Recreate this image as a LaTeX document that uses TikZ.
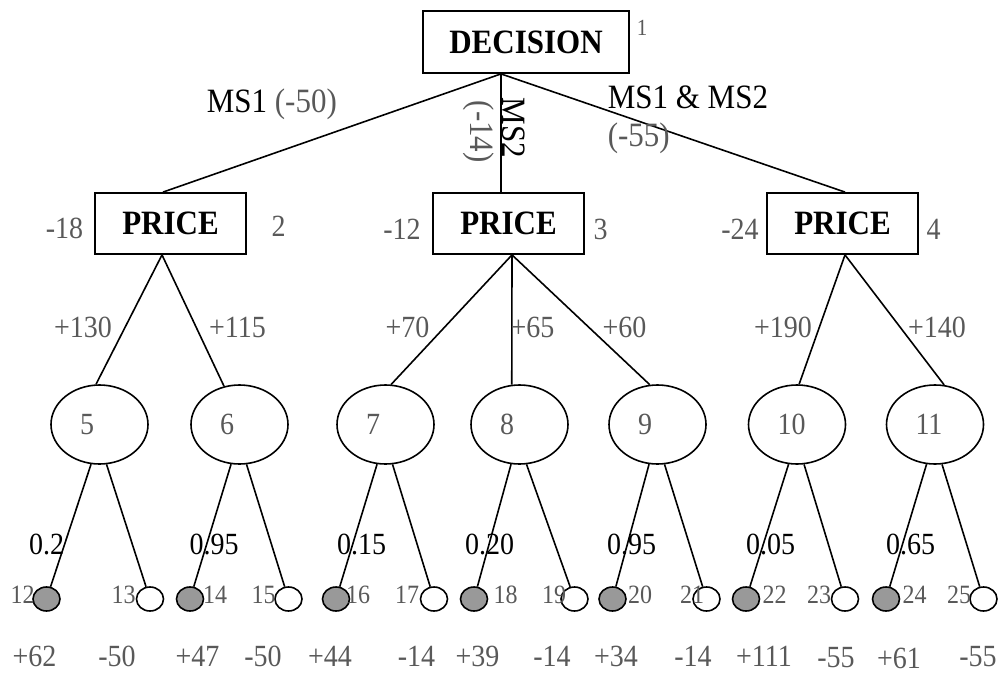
\documentclass[tikz,border=0pt]{standalone}
\usepackage{fontspec}
\setmainfont{Liberation Serif}
\usetikzlibrary{shapes.geometric}
\definecolor{numgray}{RGB}{89,89,89}
\definecolor{wingray}{RGB}{153,153,153}
\begin{document}
\begin{tikzpicture}[x=1pt,y=-1pt,line width=1.6pt,
  every node/.style={inner sep=0pt},
  tall/.style={yscale=1.1, transform shape},
  decbox/.style={draw, tall, minimum width=206pt, minimum height=56.4pt, font=\fontsize{31}{31}\selectfont\bfseries},
  pricebox/.style={draw, tall, minimum width=151pt, minimum height=55.5pt, font=\fontsize{31}{31}\selectfont\bfseries},
  chance/.style={draw, ellipse, minimum width=97pt, minimum height=79pt},
  outcome/.style={draw, ellipse, minimum width=27pt, minimum height=24pt},
  win/.style={outcome, fill=wingray},
  loss/.style={outcome, fill=white},
  val/.style={tall, text=numgray, font=\fontsize{28}{28}\selectfont},
  tag/.style={tall, text=numgray, font=\fontsize{24}{24}\selectfont},
  prob/.style={tall, font=\fontsize{28}{28}\selectfont},
  branch/.style={tall, font=\fontsize{31}{31}\selectfont},
]
\useasboundingbox (0,0) rectangle (1000,674);

% decision node
\node[decbox] (dec) at (526,42) {DECISION};
\node[tag, font=\fontsize{21}{21}\selectfont] (dec-n) at (642,28) {1};

% price nodes
\node[pricebox] (p2) at (170.5,223.5) {PRICE\hspace{12pt}};
\node[pricebox] (p3) at (508.5,223.5) {PRICE\hspace{12pt}};
\node[pricebox] (p4) at (842.5,223.5) {PRICE\hspace{12pt}};
\node[val] (p2-n) at (278.5,226) {2};
\node[val] (p3-n) at (600.5,229) {3};
\node[val] (p4-n) at (933.5,229) {4};
\node[val] (p2-c) at (64.5,228) {-18};
\node[val] (p3-c) at (402,229) {-12};
\node[val] (p4-c) at (740,229) {-24};

% connection points on the boxes
\coordinate (dec-o) at ([xshift=-25pt]dec.south);
\coordinate (p2-i) at ([xshift=-7.5pt]p2.north);
\coordinate (p3-i) at ([xshift=-7.5pt]p3.north);
\coordinate (p4-i) at ([xshift=2.5pt]p4.north);
\coordinate (p2-o) at ([xshift=-8.5pt]p2.south);
\coordinate (p3-o) at ([xshift=3.5pt]p3.south);
\coordinate (p4-o) at ([xshift=2.5pt]p4.south);

\draw (dec-o) -- (p2-i);
\draw (dec-o) -- (p3-i);
\draw (dec-o) -- (p4-i);

% decision branch labels
\node[branch, anchor=base west] (lab-ms1) at (206,113) {MS1 \textcolor{numgray}{(-50)}};
\node[branch, anchor=base west] (lab-ms12) at (607,109) {MS1 \& MS2};
\node[branch, anchor=base west, text=numgray] (lab-ms12c) at (607,146) {(-55)};
\node[rotate=-90, branch, anchor=base west] (lab-ms2) at (502,97) {MS2};
\node[rotate=-90, branch, anchor=base west, text=numgray] (lab-ms2c) at (470,100) {(-14)};

% chance nodes
\node[chance] (e5) at (99.5,424.5) {};
\node[chance] (e6) at (239.5,424.5) {};
\node[chance] (e7) at (385.5,424.5) {};
\node[chance] (e8) at (519.5,424.5) {};
\node[chance] (e9) at (657.5,424.5) {};
\node[chance] (e10) at (797,424.5) {};
\node[chance] (e11) at (935,424.5) {};
\foreach \n in {5,...,11}
  \node[val, anchor=west] (e\n-t) at ([xshift=29pt]e\n.west) {\n};

\draw (p2-o) -- (e5.95);
\draw (p2-o) -- (e6.112);
\draw (p3-o) -- (e7.82);
\draw (p3-o) -- (e8.101);
\draw (p3-o) -- (e9.101);
\draw (p4-o) -- (e10.87);
\draw (p4-o) -- (e11.77);

% price branch values
\node[val] (v5) at (83,327.5) {+130};
\node[val] (v6) at (237.5,327.5) {+115};
\node[val] (v7) at (407.5,327.5) {+70};
\node[val] (v8) at (532.5,327.5) {+65};
\node[val] (v9) at (624.5,327.5) {+60};
\node[val] (v10) at (783,327.5) {+190};
\node[val] (v11) at (937,327.5) {+140};

% outcome nodes
\node[win]  (l12) at (46.5,599) {};
\node[loss] (l13) at (150,599) {};
\node[win]  (l14) at (190,599) {};
\node[loss] (l15) at (288.5,599) {};
\node[win]  (l16) at (336,599) {};
\node[loss] (l17) at (434,599) {};
\node[win]  (l18) at (474,599) {};
\node[loss] (l19) at (574.5,599) {};
\node[win]  (l20) at (612.5,599) {};
\node[loss] (l21) at (706.5,599) {};
\node[win]  (l22) at (746,599) {};
\node[loss] (l23) at (845,599) {};
\node[win]  (l24) at (886,599) {};
\node[loss] (l25) at (983.5,599) {};

\draw (e5.258) -- (l12);  \draw (e5.280) -- (l13);
\draw (e6.258) -- (l14);  \draw (e6.280) -- (l15);
\draw (e7.258) -- (l16);  \draw (e7.280) -- (l17);
\draw (e8.258) -- (l18);  \draw (e8.280) -- (l19);
\draw (e9.258) -- (l20);  \draw (e9.280) -- (l21);
\draw (e10.258) -- (l22); \draw (e10.280) -- (l23);
\draw (e11.258) -- (l24); \draw (e11.280) -- (l25);

% probabilities
\node[prob] (pr5) at (46.5,544) {0.2};
\node[prob] (pr6) at (214,544) {0.95};
\node[prob] (pr7) at (361.5,544) {0.15};
\node[prob] (pr8) at (489.5,544) {0.20};
\node[prob] (pr9) at (631.5,544) {0.95};
\node[prob] (pr10) at (770.5,544) {0.05};
\node[prob] (pr11) at (910.5,544) {0.65};

% outcome numbers
\node[tag] (t12) at (22.5,595) {12};
\node[tag] (t13) at (123.5,595) {13};
\node[tag] (t14) at (215,595) {14};
\node[tag] (t15) at (263.5,595) {15};
\node[tag] (t16) at (358,595) {16};
\node[tag] (t17) at (407,595) {17};
\node[tag] (t18) at (505.5,595) {18};
\node[tag] (t19) at (554,595) {19};
\node[tag] (t20) at (640,595) {20};
\node[tag] (t21) at (692,595) {21};
\node[tag] (t22) at (774.5,595) {22};
\node[tag] (t23) at (819,595) {23};
\node[tag] (t24) at (914.5,595) {24};
\node[tag] (t25) at (959,595) {25};

% outcome values
\node[val] (o12) at (34.5,656) {+62};
\node[val] (o13) at (117,656) {-50};
\node[val] (o14) at (197.5,656) {+47};
\node[val] (o15) at (263,656) {-50};
\node[val] (o16) at (330,656) {+44};
\node[val] (o17) at (416.5,656) {-14};
\node[val] (o18) at (477.5,656) {+39};
\node[val] (o19) at (552,656) {-14};
\node[val] (o20) at (616,656) {+34};
\node[val] (o21) at (693,656) {-14};
\node[val] (o22) at (764,656) {+111};
\node[val] (o23) at (836,658) {-55};
\node[val] (o24) at (899,658) {+61};
\node[val] (o25) at (978,657) {-55};
\end{tikzpicture}
\end{document}
